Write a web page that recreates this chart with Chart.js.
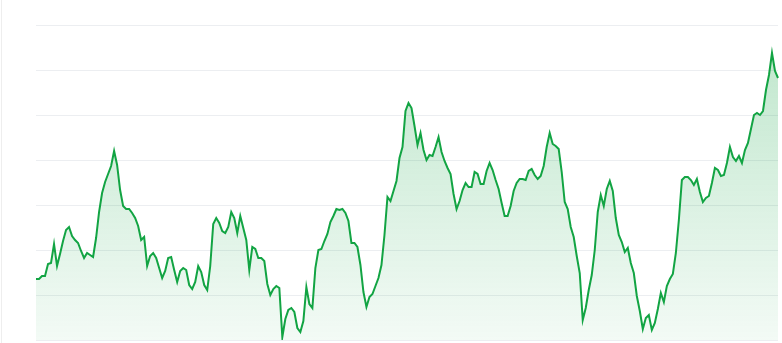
<!DOCTYPE html>
<html>
<head>
<meta charset="utf-8">
<script src="https://cdn.jsdelivr.net/npm/chart.js@4.4.1/dist/chart.umd.min.js"></script>
<style>
  html, body { margin: 0; padding: 0; background: #fff; }
  #wrap { position: relative; width: 782px; height: 343px; }
  #edge { position: absolute; left: 1px; top: 0; width: 1px; height: 343px; background: #eeeeee; }
</style>
</head>
<body>
<div id="wrap">
  <div id="edge"></div>
  <canvas id="priceChart" width="782" height="343"></canvas>
</div>
<script>
// Precios (lectura aproximada de la imagen)
const prices = [
  61,61,64,64,76,77,96,74,86,99,
  110,113,104,100,97,89,82,87,85,83,
  102,128,147,158,166,174,189,175,150,134,
  131,131,127,122,114,100,103,74,84,87,
  82,72,62,69,82,83,70,58,69,72,
  70,55,51,58,74,68,55,50,74,116,
  122,117,109,107,113,128,122,107,124,112,
  100,70,93,91,82,82,79,56,45,51,
  54,52,3,21,30,32,28,12,8,19,
  53,36,32,72,90,91,99,106,118,124,
  131,130,131,127,119,97,97,93,75,48,
  33,43,46,54,62,75,105,143,139,149,
  159,182,193,229,237,232,214,195,207,190,
  180,185,184,193,203,188,179,172,166,146,
  131,139,150,157,153,153,168,166,156,156,
  169,177,170,160,151,137,124,124,134,149,
  157,161,161,160,169,171,165,161,164,174,
  193,207,196,194,191,168,138,131,113,103,
  84,67,20,32,50,65,90,128,145,134,
  151,159,149,122,105,98,88,92,77,67,
  44,29,11,22,25,10,17,31,47,38,
  54,61,66,87,120,160,163,163,160,155,
  161,148,138,142,144,157,172,170,164,165,
  177,193,183,179,184,177,190,197,211,225,
  227,225,229,250,265,287,269,262
];
const days = prices.map((_, i) => "Día " + (i + 1));
const yMin = 0;
const yMax = 315;
const yStep = 45;

const ctx = document.getElementById("priceChart");

new Chart(ctx, {
  type: 'line',
  data: {
    labels: days,
    datasets: [{
      label: "Precio",
      data: prices,
      borderColor: "#12a443",
      borderWidth: 2,
      pointRadius: 0,
      tension: 0,
      fill: 'start',
      backgroundColor: function(c) {
        const area = c.chart.chartArea;
        if (!area) return "rgba(18,164,67,0.2)";
        const g = c.chart.ctx.createLinearGradient(0, area.top, 0, area.bottom);
        g.addColorStop(0, "rgba(18,164,67,0.28)");
        g.addColorStop(1, "rgba(18,164,67,0.05)");
        return g;
      }
    }]
  },
  options: {
    responsive: false,
    animation: false,
    layout: { padding: { left: 36, right: 4, top: 25, bottom: 3 } },
    plugins: { legend: { display: false }, tooltip: { enabled: false } },
    scales: {
      x: { display: false, offset: false },
      y: {
        min: yMin,
        max: yMax,
        ticks: { display: false, stepSize: yStep },
        border: { display: false },
        grid: { color: "#eceef1", drawTicks: false }
      }
    }
  }
});
</script>
</body>
</html>
